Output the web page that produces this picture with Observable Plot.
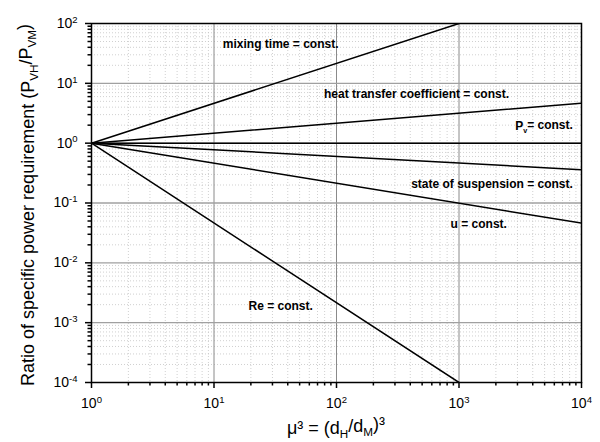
<!DOCTYPE html>
<html>
<head>
<meta charset="utf-8">
<script src="https://cdn.jsdelivr.net/npm/d3@7"></script>
<script src="https://cdn.jsdelivr.net/npm/@observablehq/plot@0.6"></script>
<style>
  html, body { margin: 0; padding: 0; background: #fff; }
  #chart { width: 600px; height: 442px; }
</style>
</head>
<body>
<div id="chart"></div>
<script>
// ---- data ----
const seriesNames = ["mixing time", "heat transfer coefficient", "Pv", "state of suspension", "u", "Re"];
const startX = [1, 1, 1, 1, 1, 1];
const startY = [1, 1, 1, 1, 1, 1];
const endX = [1000, 10000, 10000, 10000, 10000, 1000];
const endY = [100, 4.64, 1, 0.36, 0.046, 0.0001];

const labelTexts = ["mixing time = const.", "heat transfer coefficient = const.", "P_v= const.", "state of suspension = const.", "u = const.", "Re = const."];
const labelX = [35, 450, 8500, 8500, 1450, 35];
const labelY = [45, 6.5, 1.9, 0.21, 0.044, 0.0019];
const labelAnchor = ["middle", "middle", "end", "end", "middle", "middle"];

const xTicks = [1, 10, 100, 1000, 10000];
const yTicks = [1e-4, 1e-3, 1e-2, 1e-1, 1, 10, 100];
const mult = [2, 3, 4, 5, 6, 7, 8, 9];
const xMinor = xTicks.slice(0, -1).flatMap(d => mult.map(m => d * m));
const yMinor = yTicks.slice(0, -1).flatMap(d => mult.map(m => d * m));

const rows = seriesNames.flatMap((s, i) => [
  {s, x: startX[i], y: startY[i]},
  {s, x: endX[i], y: endY[i]}
]);
const labels = labelTexts.map((t, i) => ({t, x: labelX[i], y: labelY[i], a: labelAnchor[i]}));

const expFmt = d => "10^" + Math.round(Math.log10(d));

const plot = Plot.plot({
  width: 600,
  height: 442,
  marginLeft: 91,
  marginRight: 19,
  marginTop: 23,
  marginBottom: 60,
  style: {fontFamily: "Liberation Sans, Arial, sans-serif", fontSize: "14px", background: "#fff", color: "#000"},
  x: {type: "log", domain: [1, 10000], axis: null},
  y: {type: "log", domain: [1e-4, 100], axis: null},
  marks: [
    Plot.ruleX(xMinor, {stroke: "#c4c4c4", strokeWidth: 0.8, strokeDasharray: "1,2"}),
    Plot.ruleY(yMinor, {stroke: "#c4c4c4", strokeWidth: 0.8, strokeDasharray: "1,2"}),
    Plot.ruleX(xTicks.slice(1, -1), {stroke: "#8a8a8a", strokeWidth: 1}),
    Plot.ruleY(yTicks.slice(1, -1), {stroke: "#a0a0a0", strokeWidth: 1.4}),
    Plot.line(rows, {x: "x", y: "y", z: "s", stroke: "#000", strokeWidth: 1.5, clip: true}),
    Plot.text(labels.filter(d => d.a === "middle"), {x: "x", y: "y", text: "t", textAnchor: "middle", fontWeight: "bold", fontSize: 12, fill: "#000"}),
    Plot.text(labels.filter(d => d.a === "end"), {x: "x", y: "y", text: "t", textAnchor: "end", fontWeight: "bold", fontSize: 12, fill: "#000"}),
    Plot.frame({stroke: "#000", strokeWidth: 1.5}),
    Plot.axisX(xTicks, {tickSize: 6, tickPadding: 10, tickFormat: expFmt, label: null, stroke: "#000", strokeWidth: 1.5, fontSize: 14}),
    Plot.axisX(xMinor, {tickSize: 3.5, tickFormat: () => "", label: null, stroke: "#000", strokeWidth: 1.5}),
    Plot.axisY(yTicks, {tickSize: 6, tickPadding: 8, tickFormat: expFmt, label: null, stroke: "#000", strokeWidth: 1.5, fontSize: 14}),
    Plot.axisY(yMinor, {tickSize: 3.5, tickFormat: () => "", label: null, stroke: "#000", strokeWidth: 1.5})
  ]
});

document.getElementById("chart").appendChild(plot);

const svg = d3.select(plot);

// superscripts / subscripts in texts
svg.selectAll("text").each(function() {
  const t = this.textContent;
  const m = /^10\^(-?\d+)$/.exec(t);
  if (m) {
    const el = d3.select(this);
    el.text(null);
    el.append("tspan").text("10");
    el.append("tspan").attr("dy", "-0.55em").attr("font-size", "0.68em").text(m[1]);
  }
  if (t === "P_v= const.") {
    const el = d3.select(this);
    el.text(null);
    el.append("tspan").text("P");
    el.append("tspan").attr("dy", "0.35em").attr("font-size", "0.6em").text("v");
    el.append("tspan").attr("dy", "-0.35em").text("= const.");
  }
});

// y-axis title
const yt = svg.append("text")
  .attr("transform", "translate(34,205) rotate(-90)")
  .attr("text-anchor", "middle")
  .attr("font-size", 18)
  .attr("fill", "#000");
yt.append("tspan").text("Ratio of specific power requirement (P");
yt.append("tspan").attr("dy", "0.3em").attr("font-size", "0.65em").text("VH");
yt.append("tspan").attr("dy", "-0.3em").text("/P");
yt.append("tspan").attr("dy", "0.3em").attr("font-size", "0.65em").text("VM");
yt.append("tspan").attr("dy", "-0.3em").text(")");

// x-axis title
const xt = svg.append("text")
  .attr("x", 336).attr("y", 434)
  .attr("text-anchor", "middle")
  .attr("font-size", 18)
  .attr("fill", "#000");
xt.append("tspan").text("\u03bc\u00b3 = (d");
xt.append("tspan").attr("dy", "0.3em").attr("font-size", "0.65em").text("H");
xt.append("tspan").attr("dy", "-0.3em").text("/d");
xt.append("tspan").attr("dy", "0.3em").attr("font-size", "0.65em").text("M");
xt.append("tspan").attr("dy", "-0.3em").text(")\u00b3");
</script>
</body>
</html>
